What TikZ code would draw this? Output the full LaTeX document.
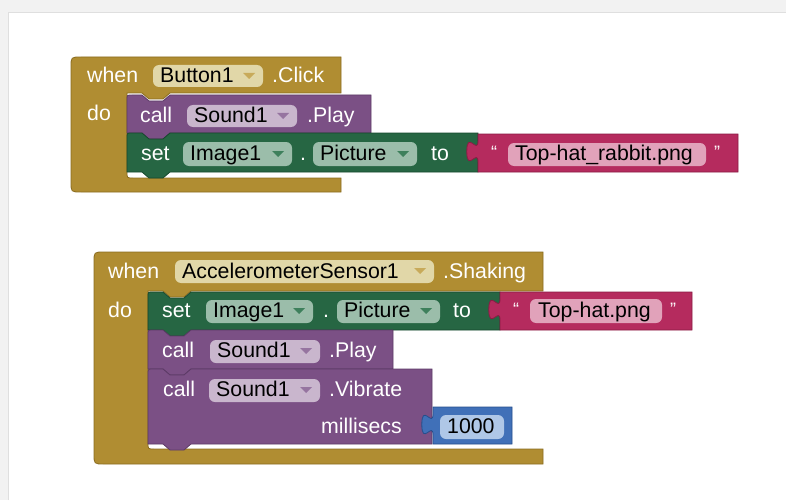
\documentclass[tikz,border=0pt]{standalone}
\usepackage{fontspec}
\setmainfont{Liberation Sans}
\definecolor{evt}{RGB}{176,141,50}
\definecolor{evtdk}{RGB}{138,108,32}
\definecolor{evtfld}{RGB}{225,215,168}
\definecolor{evttri}{RGB}{200,170,90}
\definecolor{cmp}{RGB}{123,80,133}
\definecolor{cmpdk}{RGB}{92,58,102}
\definecolor{cmpfld}{RGB}{201,182,205}
\definecolor{cmptri}{RGB}{150,116,160}
\definecolor{setc}{RGB}{38,102,67}
\definecolor{setdk}{RGB}{22,72,45}
\definecolor{setfld}{RGB}{155,189,170}
\definecolor{settri}{RGB}{62,128,92}
\definecolor{txtc}{RGB}{181,43,94}
\definecolor{txtdk}{RGB}{138,28,68}
\definecolor{txtfld}{RGB}{225,162,186}
\definecolor{mth}{RGB}{64,112,184}
\definecolor{mthdk}{RGB}{38,78,140}
\definecolor{mthfld}{RGB}{175,199,231}
\definecolor{pagebg}{RGB}{242,242,242}
\newcommand\blkfont{\fontsize{21.3}{24}\selectfont}
\newcommand\quotefont{\fontsize{18}{20}\selectfont}
% event block with a C-shaped statement input:
% #1 left, #2 top, #3 right, #4 bar bottom, #5 inner left, #6 arm top, #7 bottom
\newcommand\evblock[7]{%
  \draw[evtblk] (#1,{#2+10}) .. controls (#1,#2) .. ({#1+10},#2) -- (#3,#2) -- (#3,#4)
    -- ({#5+43},#4) -- ({#5+36},{#4+6}) -- ({#5+22},{#4+6}) -- ({#5+15},#4) -- (#5,#4)
    -- (#5,{#6-6}) .. controls (#5,#6) .. ({#5+6},#6) -- (#3,#6) -- (#3,#7)
    -- ({#1+10},#7) .. controls (#1,#7) .. (#1,{#7-10}) -- cycle;}
% statement block with top notch and bottom tab: #1 style, #2 x0, #3 y0, #4 x1, #5 y1
\newcommand\stmtblock[5]{%
  \draw[#1] (#2,{#3+5}) .. controls (#2,#3) .. ({#2+5},#3) -- ({#2+15},#3) -- ({#2+22},{#3+6})
    -- ({#2+36},{#3+6}) -- ({#2+43},#3) -- (#4,#3) -- (#4,#5) -- ({#2+43},#5)
    -- ({#2+36},{#5+6}) -- ({#2+22},{#5+6}) -- ({#2+15},#5) -- (#2,#5) -- cycle;}
% value block with the puzzle tab on its left edge: #1 style, #2 x0, #3 y0, #4 x1, #5 y1
\newcommand\valblock[5]{%
  \draw[#1] (#2,#3) -- (#2,{#3+7}) .. controls (#2,{#3+21}) and ({#2-11.2},{#3-4.2})
    .. ({#2-11.2},{#3+17.5}) .. controls ({#2-11.2},{#3+39.2}) and (#2,{#3+14})
    .. (#2,{#3+28}) -- (#2,#5) -- (#4,#5) -- (#4,#3) -- cycle;}
% rounded field box: #1 colour, #2 x0, #3 y0, #4 x1, #5 y1
\newcommand\fieldbox[5]{\fill[#1, rounded corners=6pt] (#2,#3) rectangle (#4,#5);}
% dropdown arrow: #1 colour, #2 field right edge, #3 field middle
\newcommand\ddarrow[3]{\fill[#1] ({#2-20},{#3-3}) -- ({#2-8},{#3-3}) -- ({#2-14},{#3+3}) -- cycle;}
\tikzset{
  evtblk/.style={fill=evt, draw=evtdk, line width=0.8pt},
  cmpblk/.style={fill=cmp, draw=cmpdk, line width=0.8pt},
  setblk/.style={fill=setc, draw=setdk, line width=0.8pt},
  txtblk/.style={fill=txtc, draw=txtdk, line width=0.8pt},
  mthblk/.style={fill=mth, draw=mthdk, line width=0.8pt},
  wt/.style={anchor=base west, inner sep=0pt, text=white, font=\blkfont},
  bt/.style={anchor=base west, inner sep=0pt, text=black, font=\blkfont},
  qt/.style={anchor=base west, inner sep=0pt, text=white, font=\quotefont},
}
\begin{document}
\begin{tikzpicture}[x=1pt, y=-1pt]
\useasboundingbox (0,0) rectangle (786,500);
% page
\fill[pagebg] (0,0) rectangle (786,500);
\fill[white] (8,12) rectangle (786,500);
\draw[gray!25, line width=0.6pt] (8,500) -- (8,12) -- (786,12);

% ---------- when Button1.Click ----------
\evblock{71}{57}{341}{93}{127}{178}{192}
\node[wt] (when1) at (87,83) {when};
\fieldbox{evtfld}{153}{65}{263}{87}
\node[bt] (btn1) at (160,83) {Button1};
\ddarrow{evttri}{263}{76}
\node[wt] (click1) at (272,83) {.Click};
\node[wt] (do1) at (87,121) {do};

% call Sound1.Play
\stmtblock{cmpblk}{127}{95}{371}{133}
\node[wt] (call1) at (140,122) {call};
\fieldbox{cmpfld}{187}{105}{297}{127}
\node[bt] (snd1) at (194,122) {Sound1};
\ddarrow{cmptri}{297}{116}
\node[wt] (play1) at (307,122) {.Play};

% set Image1.Picture to
\stmtblock{setblk}{127}{133}{478}{172}
\node[wt] (set1) at (141,160) {set};
\fieldbox{setfld}{183}{142}{292}{166}
\node[bt] (img1) at (190,160) {Image1};
\ddarrow{settri}{292}{154}
\node[wt] (dot1) at (300,160) {.};
\fieldbox{setfld}{313}{142}{417}{166}
\node[bt] (pic1) at (320,160) {Picture};
\ddarrow{settri}{417}{154}
\node[wt] (to1) at (431,160) {to};

% text "Top-hat_rabbit.png"
\valblock{txtblk}{478}{134}{738}{172}
\node[qt] (lq1) at (491,158) {“};
\fieldbox{txtfld}{508}{143}{706}{166}
\node[bt] (str1) at (515,160) {Top-hat\_rabbit.png};
\node[qt] (rq1) at (714,158) {”};

% ---------- when AccelerometerSensor1.Shaking ----------
\evblock{94}{252}{543}{291}{148}{449}{464}
\node[wt] (when2) at (108,278) {when};
\fieldbox{evtfld}{175}{260}{434}{283}
\node[bt] (acc2) at (182,278) {AccelerometerSensor1};
\ddarrow{evttri}{434}{271}
\node[wt] (shake2) at (443,278) {.Shaking};
\node[wt] (do2) at (108,317) {do};

% set Image1.Picture to
\stmtblock{setblk}{148}{292}{500}{330}
\node[wt] (set2) at (162,317) {set};
\fieldbox{setfld}{206}{300}{313}{323}
\node[bt] (img2) at (213,317) {Image1};
\ddarrow{settri}{313}{311}
\node[wt] (dot2) at (323,317) {.};
\fieldbox{setfld}{337}{300}{440}{323}
\node[bt] (pic2) at (344,317) {Picture};
\ddarrow{settri}{440}{311}
\node[wt] (to2) at (453,317) {to};

% text "Top-hat.png"
\valblock{txtblk}{500}{292}{692}{330}
\node[qt] (lq2) at (513,315) {“};
\fieldbox{txtfld}{530}{299}{662}{323}
\node[bt] (str2) at (538,317) {Top-hat.png};
\node[qt] (rq2) at (670,315) {”};

% call Sound1.Play
\stmtblock{cmpblk}{148}{330}{393}{369}
\node[wt] (call2) at (162,357) {call};
\fieldbox{cmpfld}{210}{340}{320}{363}
\node[bt] (snd2) at (217,357) {Sound1};
\ddarrow{cmptri}{320}{351}
\node[wt] (play2) at (329,357) {.Play};

% call Sound1.Vibrate millisecs
\stmtblock{cmpblk}{148}{369}{432}{444}
\node[wt] (call3) at (163,396) {call};
\fieldbox{cmpfld}{209}{379}{320}{402}
\node[bt] (snd3) at (216,396) {Sound1};
\ddarrow{cmptri}{320}{390}
\node[wt] (vib3) at (329,396) {.Vibrate};
\node[wt] (ms3) at (321,433) {millisecs};

% number 1000
\valblock{mthblk}{433}{407}{512}{444}
\fieldbox{mthfld}{440}{415}{504}{439}
\node[bt] (num3) at (447,433) {1000};
\end{tikzpicture}
\end{document}
